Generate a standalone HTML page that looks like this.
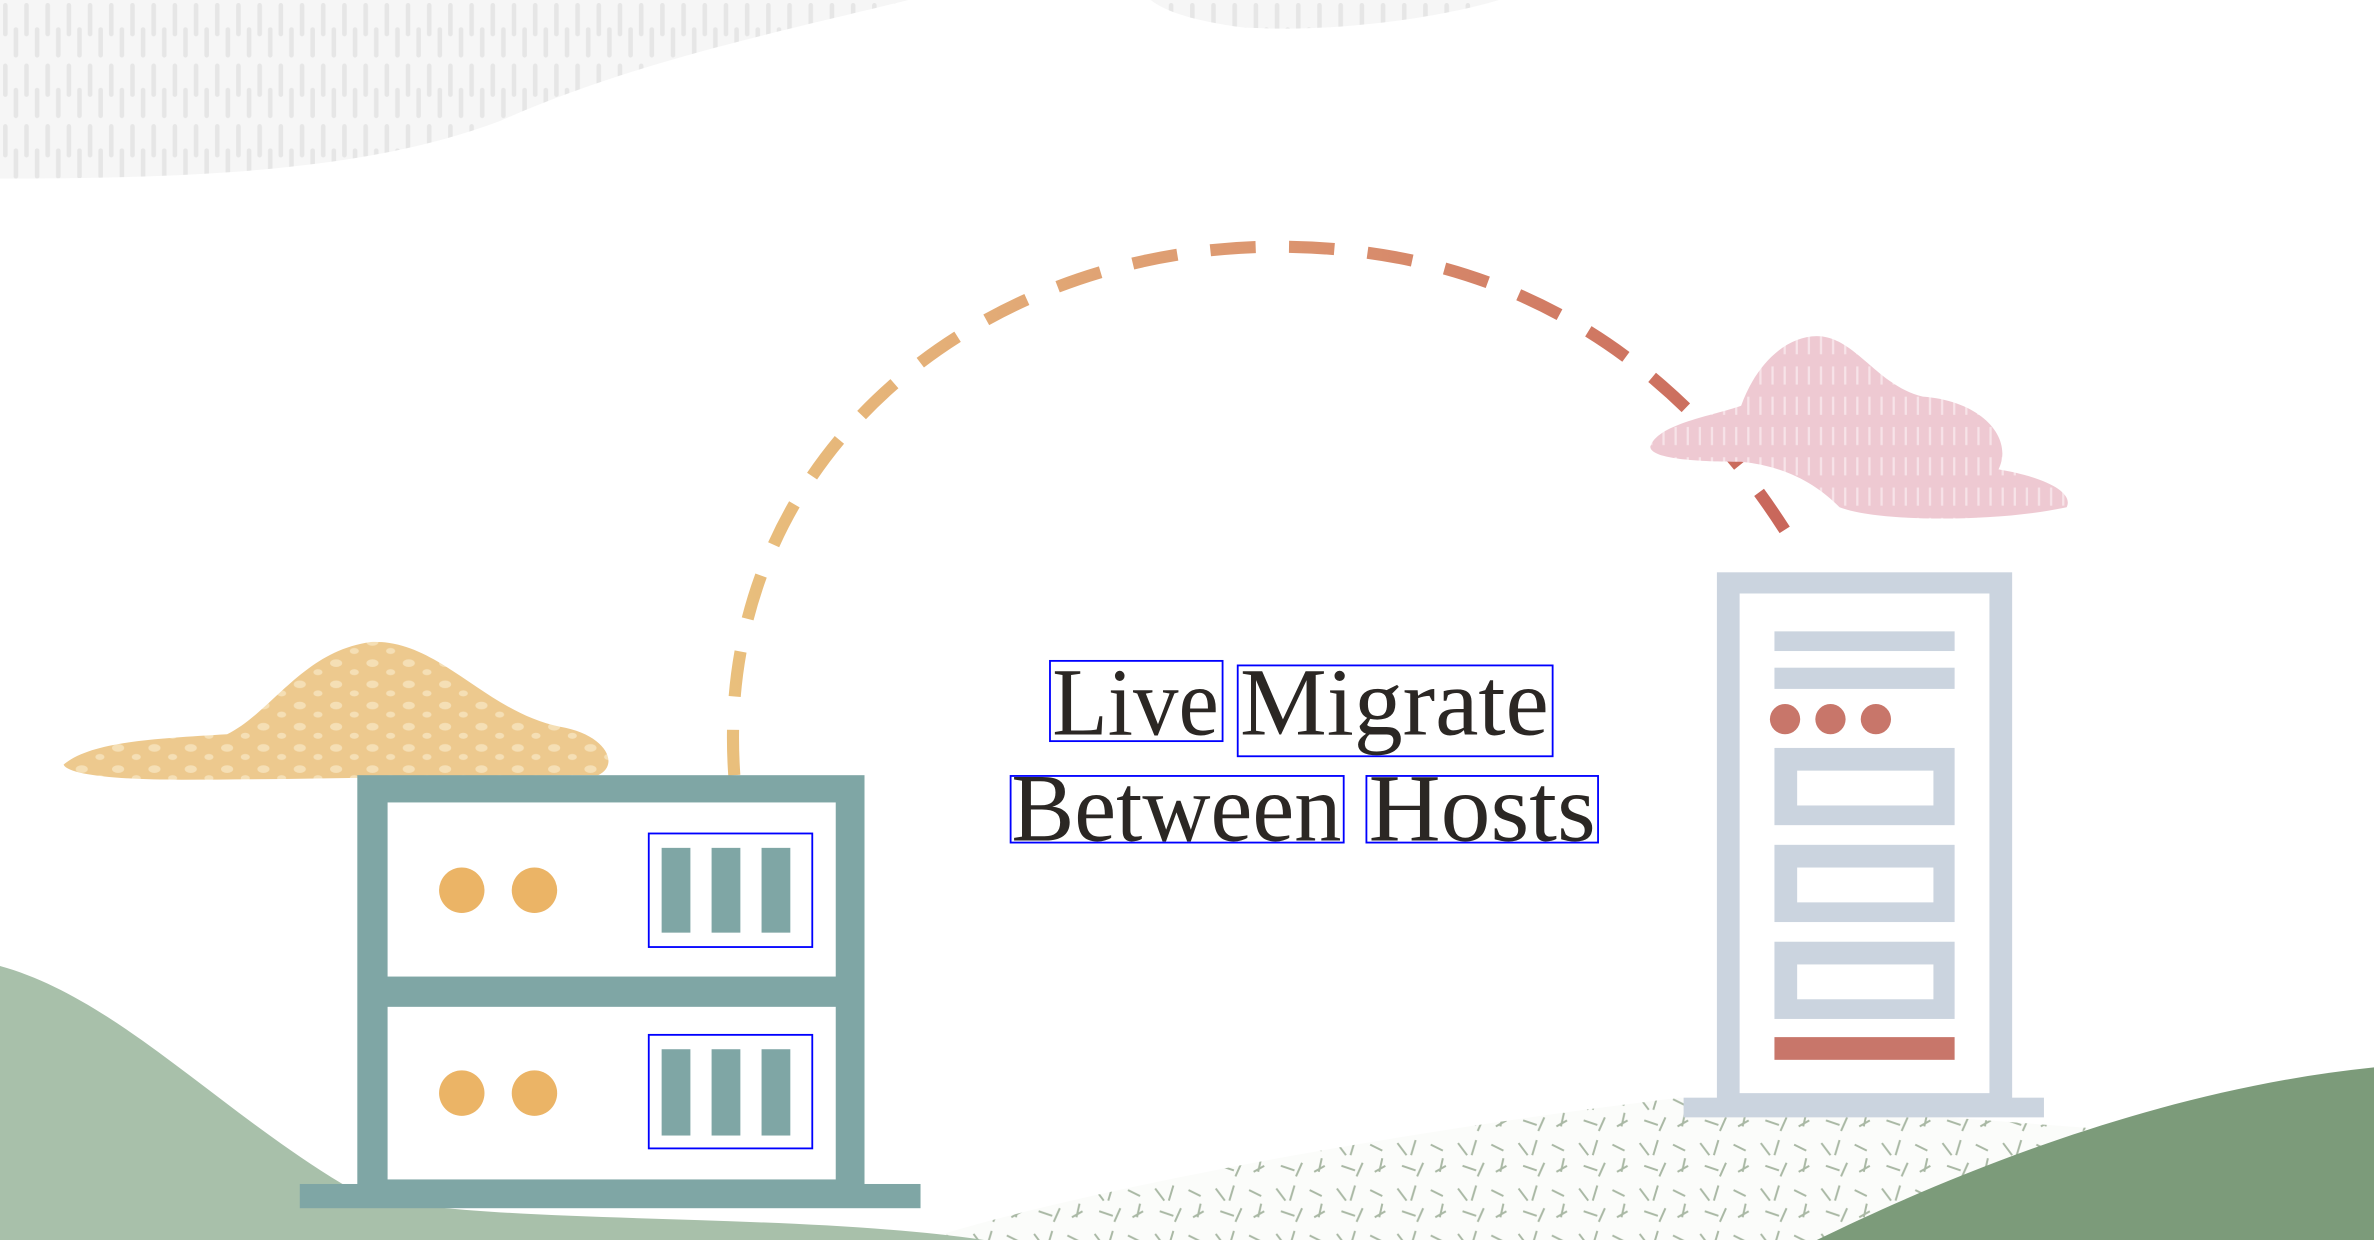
<!DOCTYPE html>
<html><head><meta charset="utf-8"><style>
html,body{margin:0;padding:0;background:#fff;}
svg{display:block}
</style></head><body>
<svg width="2374" height="1240" viewBox="0 0 1568 819" preserveAspectRatio="none" xmlns="http://www.w3.org/2000/svg">
<defs>
<pattern id="rain" width="14" height="40" patternUnits="userSpaceOnUse">
<rect width="14" height="40" fill="#f6f6f6"/>
<rect x="2" y="2" width="3" height="22" rx="1.5" fill="#e6e6e6"/>
<rect x="9" y="18" width="3" height="20" rx="1.5" fill="#e6e6e6"/>
</pattern>
<pattern id="pinkp" width="8" height="20" patternUnits="userSpaceOnUse">
<rect width="8" height="20" fill="#eec9d2"/>
<rect x="2" y="2" width="1.5" height="12" fill="#f7e3e8"/>
</pattern>
<pattern id="tanp" width="24" height="14" patternUnits="userSpaceOnUse">
<rect width="24" height="14" fill="#edc98e"/>
<ellipse cx="6" cy="4" rx="4" ry="2.5" fill="#f5dfb5"/>
<ellipse cx="18" cy="10" rx="3" ry="2" fill="#f5dfb5"/>
</pattern>
<pattern id="speck" width="40" height="30" patternUnits="userSpaceOnUse">
<rect width="40" height="30" fill="#fbfcfa"/>
<path d="M3 5l6 8M15 3l-3 10M25 6l8 4M33 15l-2 9M6 20l9 3M20 18l-4 9M28 24l7-4" stroke="#a9b8a4" stroke-width="1.3"/>
</pattern>
<linearGradient id="arc" x1="0" x2="1" y1="0" y2="0">
<stop offset="0" stop-color="#e9bf7c"/><stop offset="0.5" stop-color="#dc9670"/><stop offset="1" stop-color="#c8655a"/>
</linearGradient>
</defs>
<path d="M0 0 H600 C520 20 420 40 330 80 C250 110 150 118 0 118 Z" fill="url(#rain)"/>
<path d="M760 0 H990 C950 12 880 22 820 18 C790 14 770 8 760 0Z" fill="url(#rain)"/>
<path d="M610 819 C700 790 900 750 1110 725 L1380 745 C1330 770 1250 800 1200 819 Z" fill="url(#speck)"/>
<path d="M0 638 C80 660 150 740 240 790 C330 810 520 800 650 819 H0 Z" fill="#a8c0aa"/>
<path d="M1200 819 C1280 780 1420 720 1568 705 V819 Z" fill="#7c9b7a"/>
<path d="M485 512 C470 300 650 160 850 163 C1010 165 1120 250 1188 365" fill="none" stroke="url(#arc)" stroke-width="8" stroke-dasharray="30 22"/>
<path d="M42 505 C60 490 100 488 150 485 C180 470 200 430 245 424 C290 422 320 470 370 480 C400 485 410 505 395 512 C300 512 200 515 120 515 C80 515 45 512 42 505Z" fill="url(#tanp)"/>
<path d="M1090 295 C1095 280 1130 275 1150 268 C1160 240 1180 222 1200 222 C1225 222 1240 255 1270 262 C1310 265 1330 290 1320 310 C1350 315 1370 325 1365 335 C1320 345 1240 345 1215 335 C1200 320 1180 308 1150 305 C1120 305 1090 303 1090 295Z" fill="url(#pinkp)"/>
<!-- left server -->
<rect x="198" y="782" width="410" height="16" fill="#7fa6a5"/>
<rect x="236" y="512" width="335" height="272" fill="#7fa6a5"/>
<rect x="256" y="530" width="296" height="115" fill="#fff"/>
<rect x="256" y="665" width="296" height="114" fill="#fff"/>
<g fill="#ebb466"><circle cx="305" cy="588" r="15"/><circle cx="353" cy="588" r="15"/><circle cx="305" cy="722" r="15"/><circle cx="353" cy="722" r="15"/></g>
<g fill="#7fa6a5">
<rect x="437" y="560" width="19" height="56"/><rect x="470" y="560" width="19" height="56"/><rect x="503" y="560" width="19" height="56"/>
<rect x="437" y="693" width="19" height="57"/><rect x="470" y="693" width="19" height="57"/><rect x="503" y="693" width="19" height="57"/>
</g>
<g fill="none" stroke="#0000ff" stroke-width="1.2">
<rect x="428.5" y="550.5" width="108" height="75"/><rect x="428.5" y="683.5" width="108" height="75"/>
<rect x="693.5" y="436.5" width="114" height="53"/><rect x="817.5" y="439.5" width="208" height="60"/>
<rect x="667.5" y="512.5" width="220" height="44"/><rect x="902.5" y="512.5" width="153" height="44"/>
</g>
<g font-family="'Liberation Serif',serif" font-size="64" fill="#2b2724">
<text x="695" y="485" textLength="110" lengthAdjust="spacingAndGlyphs">Live</text>
<text x="819" y="485" textLength="204" lengthAdjust="spacingAndGlyphs">Migrate</text>
<text x="668" y="555" textLength="218" lengthAdjust="spacingAndGlyphs">Between</text>
<text x="904" y="555" textLength="150" lengthAdjust="spacingAndGlyphs">Hosts</text>
</g>
<!-- right server -->
<rect x="1112" y="725" width="238" height="13" fill="#cbd4df"/>
<rect x="1134" y="378" width="195" height="349" fill="#cbd4df"/>
<rect x="1149" y="392" width="165" height="330" fill="#fff"/>
<g fill="#cbd4df">
<rect x="1172" y="417" width="119" height="13"/><rect x="1172" y="441" width="119" height="14"/>
<rect x="1172" y="494" width="119" height="51"/><rect x="1172" y="558" width="119" height="51"/><rect x="1172" y="622" width="119" height="51"/>
</g>
<g fill="#fff"><rect x="1187" y="509" width="90" height="23"/><rect x="1187" y="573" width="90" height="23"/><rect x="1187" y="637" width="90" height="23"/></g>
<g fill="#c8766a"><circle cx="1179" cy="475" r="10"/><circle cx="1209" cy="475" r="10"/><circle cx="1239" cy="475" r="10"/>
<rect x="1172" y="685" width="119" height="15"/></g>
</svg>
</body></html>
